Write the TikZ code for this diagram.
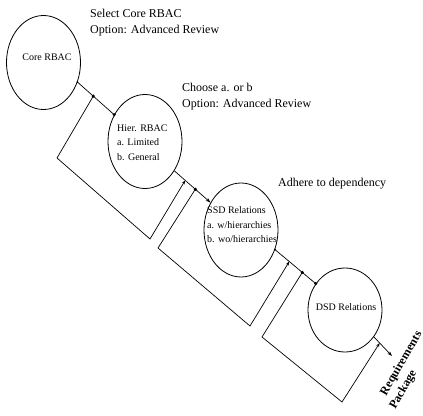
\documentclass[tikz,border=0pt]{standalone}
\usepackage{fontspec}
\setmainfont{Liberation Serif}
\usetikzlibrary{shapes.geometric,arrows.meta}

\begin{document}
\begin{tikzpicture}[x=1pt,y=-1pt,
  stage/.style={draw, ellipse, line width=0.8pt, minimum width=74pt, minimum height=94pt, inner sep=0pt},
  stagetext/.style={font=\fontsize{10}{14.5}\selectfont, align=left, inner sep=0pt},
  note/.style={font=\fontsize{12}{16.5}\selectfont, align=left, inner sep=0pt, anchor=north west},
  outtext/.style={font=\bfseries\fontsize{12}{14}\selectfont, rotate=60, inner sep=0pt},
  link/.style={line width=0.7pt},
  tip/.style={-{Stealth[length=5pt,width=3.5pt]}},
  back/.style={line width=0.7pt, -{Stealth[length=4pt,width=3pt]}}
]
\useasboundingbox (0,0) rectangle (423,415);

% stages of the package
\node[stage] (core) at (43.5,62.5) {};
\node[stage] (hier) at (145,141.5) {};
\node[stage] (ssd) at (241,230) {};
\node[stage, minimum height=84pt] (dsd) at (345,310) {};

\node[stagetext] (coretxt) at (47,57) {Core RBAC};
\node[stagetext, anchor=west] (hiertxt) at (117,142.5) {Hier. RBAC\\a. Limited\\b. General};
\node[stagetext, anchor=west] (ssdtxt) at (207,225) {SSD Relations\\a. w/hierarchies\\b. wo/hierarchies};
\node[stagetext] (dsdtxt) at (346,307) {DSD Relations};

% side notes
\node[note] (lab1) at (90,8.8) {Select Core RBAC\\Option: Advanced Review};
\node[note] (lab2) at (182,82.8) {Choose a. or b\\Option: Advanced Review};
\node[note] (lab3) at (278,177.8) {Adhere to dependency};

% final output
\coordinate (req) at (392,356);
\node[outtext] (reqtxt) at (401.5,363.5) {Requirements};
\node[outtext] (pkgtxt) at (403.5,390) {Package};

% main flow
\draw[link] (core.-30) -- (hier.139) coordinate[pos=0.43] (j1);
\draw[link, tip] (hier.-45) -- (ssd.138) coordinate[pos=0.3] (k1) coordinate[pos=0.58] (j2);
\draw[link] (ssd.-30) -- (dsd.138) coordinate[pos=0.35] (k2) coordinate[pos=0.67] (j3);
\draw[link, tip] (dsd.-43) -- (req) coordinate[pos=0.32] (k3);

% feedback loops
\coordinate (a1) at (57,158);  \coordinate (b1) at (150,239);
\coordinate (a2) at (158,248); \coordinate (b2) at (250,326);
\coordinate (a3) at (262,337); \coordinate (b3) at (342,402);
\draw[back] (j1) -- (a1) -- (b1) -- (k1);
\draw[back] (j2) -- (a2) -- (b2) -- (k2);
\draw[back] (j3) -- (a3) -- (b3) -- (k3);

% junction dots
\foreach \p in {j1,j2,j3,hier.139,dsd.138} \fill (\p) circle (1.7pt);
\foreach \p in {core.-30,ssd.-30} \fill (\p) circle (1pt);
\end{tikzpicture}
\end{document}
